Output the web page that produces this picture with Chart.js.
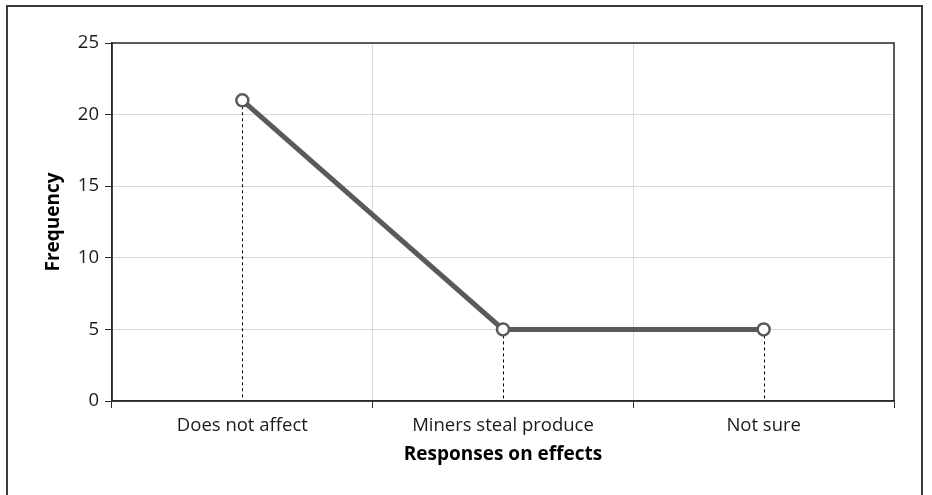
<!DOCTYPE html>
<html>
<head>
<meta charset="utf-8">
<script src="https://cdn.jsdelivr.net/npm/chart.js@4.4.1/dist/chart.umd.min.js"></script>
<style>
  html, body { margin: 0; padding: 0; background: #fff; overflow: hidden; }
  #wrap { position: relative; width: 932px; height: 495px; }
  #frame { position: absolute; left: 6px; top: 5px; width: 917px; height: 520px; border: 2px solid #3a3a3a; box-sizing: border-box; }
  #c { position: absolute; left: 0; top: 0; }
</style>
</head>
<body>
<div id="wrap">
  <div id="frame"></div>
  <canvas id="c" width="932" height="495"></canvas>
</div>
<script>
// Survey responses on how mining affects farming
const categories = ['Does not affect', 'Miners steal produce', 'Not sure'];
const frequency = [21, 5, 5];
const yTicks = [0, 5, 10, 15, 20, 25];

const FONT = '"Open Sans", "Noto Sans", sans-serif';
const AXIS = '#2b2b2b';
const LINE = '#5a5a5a';

// Dashed drop lines from each point down to the zero baseline
const dropLines = {
  id: 'dropLines',
  beforeDatasetsDraw(chart) {
    const ctx = chart.ctx;
    const y0 = chart.scales.y.getPixelForValue(0);
    const meta = chart.getDatasetMeta(0);
    ctx.save();
    ctx.strokeStyle = '#000';
    ctx.lineWidth = 1;
    ctx.setLineDash([3, 3]);
    meta.data.forEach(pt => {
      ctx.beginPath();
      ctx.moveTo(Math.round(pt.x) + 0.5, pt.y);
      ctx.lineTo(Math.round(pt.x) + 0.5, y0);
      ctx.stroke();
    });
    ctx.restore();
  }
};

// Black frame round the plot area
const plotFrame = {
  id: 'plotFrame',
  afterDraw(chart) {
    const a = chart.chartArea;
    const ctx = chart.ctx;
    ctx.save();
    ctx.strokeStyle = AXIS;
    ctx.lineWidth = 1.5;
    ctx.strokeRect(a.left, a.top, a.right - a.left, a.bottom - a.top);
    ctx.restore();
  }
};

new Chart(document.getElementById('c'), {
  type: 'line',
  data: {
    labels: categories,
    datasets: [{
      data: frequency,
      borderColor: LINE,
      borderWidth: 5,
      pointRadius: 6,
      pointBorderWidth: 2.5,
      pointBorderColor: LINE,
      pointBackgroundColor: '#fff',
      tension: 0
    }]
  },
  options: {
    responsive: false,
    animation: false,
    devicePixelRatio: 1,
    layout: { padding: { left: 0, top: 43, right: 38, bottom: 0 } },
    plugins: { legend: { display: false }, tooltip: { enabled: false } },
    scales: {
      x: {
        offset: true,
        grid: { offset: true, color: '#dadada', lineWidth: 1, tickLength: 7, tickColor: AXIS, drawTicks: true },
        border: { display: true, color: AXIS, width: 1.5 },
        ticks: { color: '#1a1a1a', font: { family: FONT, size: 18.5 }, padding: 7, maxRotation: 0 },
        title: { display: true, text: 'Responses on effects', color: '#000', font: { family: FONT, size: 19, weight: 'bold' }, padding: { top: 0, bottom: 29 } },
        afterFit(s) { s.height = 94; }
      },
      y: {
        min: 0, max: 25,
        afterBuildTicks(s) { s.ticks = yTicks.map(v => ({ value: v })); },
        grid: { color: '#dadada', lineWidth: 1, tickLength: 7, tickColor: AXIS },
        border: { display: true, color: AXIS, width: 1.5 },
        ticks: { color: '#1a1a1a', font: { family: FONT, size: 18.5 }, padding: 6 },
        title: { display: true, text: 'Frequency', color: '#000', font: { family: FONT, size: 19, weight: 'bold' }, padding: { top: 42, bottom: 0 } },
        afterFit(s) { s.width = 112; }
      }
    }
  },
  plugins: [dropLines, plotFrame]
});
</script>
</body>
</html>
